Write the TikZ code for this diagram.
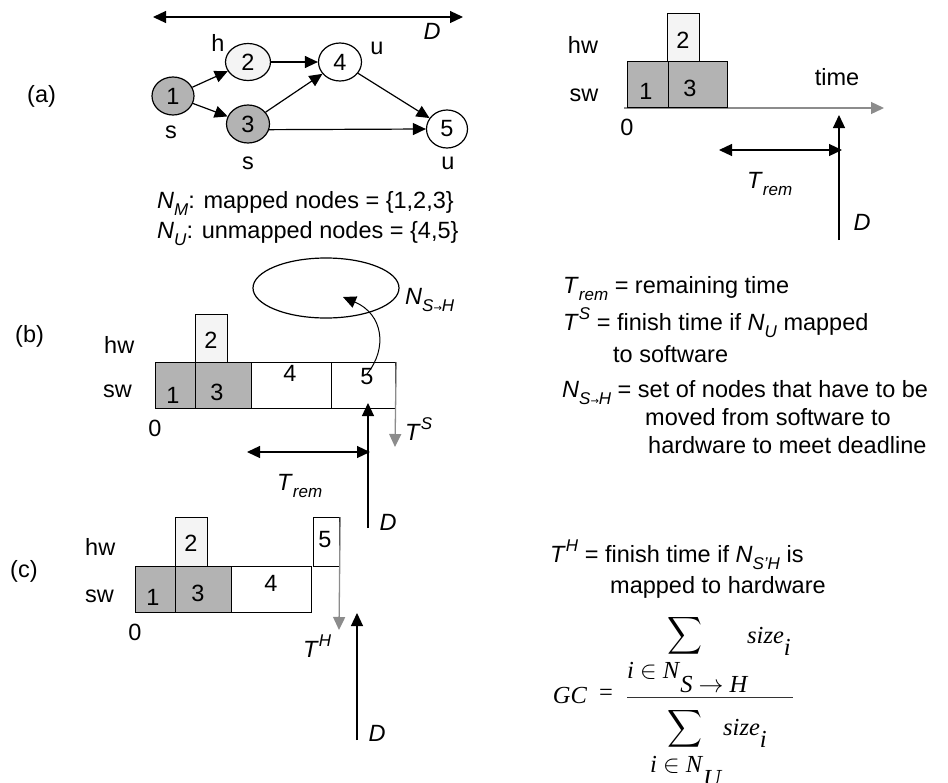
\documentclass[tikz,border=0pt]{standalone}
\usepackage{fontspec}
\usepackage{graphicx}
\setmainfont{Liberation Sans}
\newfontfamily\serif{Liberation Serif}
\newfontfamily\dejavu{DejaVu Sans}
\usetikzlibrary{arrows.meta,shapes.geometric}
\definecolor{fillgray}{HTML}{B3B3B3}
\definecolor{filllight}{HTML}{F4F4F4}
\definecolor{axisgray}{HTML}{8C8C8C}
\newcommand\lab{\fontsize{23.5}{28}\selectfont}
\newcommand\fml{\serif\fontsize{24.5}{28}\selectfont}
\newcommand\dn[1]{\raisebox{-0.3em}{\fontsize{17}{17}\selectfont\textit{#1}}}
\newcommand\up[1]{\raisebox{0.45em}{\fontsize{17}{17}\selectfont\textit{#1}}}
\newcommand\sarrow{{\dejavu\fontsize{10}{10}\selectfont\upshape →}}
\begin{document}
\begin{tikzpicture}[x=1pt,y=-1pt,
  every node/.style={font=\lab, inner sep=0pt},
  tip/.style={-{Triangle[length=13pt,width=12pt]}},
  dtip/.style={{Triangle[length=13pt,width=12pt]}-{Triangle[length=13pt,width=12pt]}},
  line/.style={line width=1.2pt},
  vert/.style={draw, line width=1.2pt, ellipse, inner sep=0pt},
  cell/.style={draw, line width=1.2pt, rectangle, inner sep=0pt, anchor=north west},
  garrow/.style={draw=axisgray, line width=1.3pt, -{Triangle[length=13pt,width=12pt]}, axisgray}]
\useasboundingbox (0,0) rectangle (948,782);

% ---------------- (a) graph ----------------
\node[anchor=base west] (la) at (27,102) {(a)};
\coordinate (dl) at (153,17);
\coordinate (dr) at (463,17);
\draw[line, dtip] (dl) -- (dr);
\node (dlab) at (432,31) {\textit{D}};

\node[vert, fill=fillgray, minimum width=42, minimum height=38] (n1) at (173,96) {1};
\node[vert, fill=filllight, minimum width=45, minimum height=37] (n2) at (248,62) {2};
\node[vert, fill=white, minimum width=43, minimum height=38] (n4) at (340,62) {4};
\node[vert, fill=fillgray, minimum width=43, minimum height=38] (n3) at (248,124) {3};
\node[vert, fill=white, minimum width=41, minimum height=38] (n5) at (447,129) {5};
\draw[line, tip] (n1) -- (n2);
\draw[line, tip] (n1) -- (n3);
\draw[line, tip] (n2) -- (n4);
\draw[line, tip] (n3) -- (n4);
\draw[line, tip] (n4) -- (n5);
\draw[line, tip] (n3.345) -- (n5.west);
\node (lh) at (218,43) {h};
\node (lu4) at (377,48) {u};
\node (ls1) at (171,132) {s};
\node (ls3) at (248,163) {s};
\node (lu5) at (448,163) {u};
\node[anchor=base west] (nm) at (157,208) {\textit{N}\dn{M}: mapped nodes = \{1,2,3\}};
\node[anchor=base west] (nu) at (157,238) {\textit{N}\dn{U}: unmapped nodes = \{4,5\}};

% ---------------- (a) schedule ----------------
\node (ahw) at (583,45) {hw};
\node (asw) at (584,95) {sw};
\coordinate (ax0) at (624,108);
\coordinate (ax1) at (884,108);
\draw[garrow] (ax0) -- (ax1);
\node[cell, fill=filllight, minimum width=32, minimum height=48] (a2) at (667,13) {};
\node[cell, fill=fillgray, minimum width=41, minimum height=46] (a1) at (627,61) {};
\node[cell, fill=fillgray, minimum width=59, minimum height=46] (a3) at (668,61) {};
\node (a2t) at (683,40) {2};
\node (a1t) at (646,91) {1};
\node (a3t) at (690,88) {3};
\node (atime) at (837,77) {time};
\node (a0) at (627,127) {0};
\coordinate (adb) at (839,240);
\coordinate (adt) at (839,115);
\draw[line, tip] (adb) -- (adt);
\node (adlab) at (862,222) {\textit{D}};
\coordinate (atl) at (719,150);
\coordinate (atr) at (842,150);
\draw[line, dtip] (atl) -- (atr);
\node[anchor=base west] (atrem) at (747,188) {\textit{T}\dn{rem}};

% ---------------- (b) ----------------
\node[anchor=base west] (lb) at (15,342) {(b)};
\draw[line] (326,288) ellipse [x radius=73, y radius=30];
\node[anchor=base west] (nsh) at (405,304) {\textit{N}\dn{S\sarrow H}};
\node[anchor=base west] (bhw) at (104,353) {hw};
\node[anchor=base west] (bsw) at (103,397) {sw};
\node[cell, fill=filllight, minimum width=32, minimum height=48] (b2) at (195,314) {};
\node[cell, fill=fillgray, minimum width=40, minimum height=46] (b1) at (155,362) {};
\node[cell, fill=fillgray, minimum width=56, minimum height=46] (b3) at (195,362) {};
\node[cell, fill=white, minimum width=80, minimum height=46] (b4) at (251,362) {};
\node[cell, fill=white, minimum width=64, minimum height=46] (b5) at (331,362) {};
\node (b2t) at (211,340) {2};
\node (b1t) at (173,395) {1};
\node (b3t) at (217,392) {3};
\node (b4t) at (290,373) {4};
\node (b5t) at (367,377) {5};
\node (b0) at (155,428) {0};
\coordinate (bts) at (395,447);
\draw[garrow] (b5.north east) -- (bts);
\node[anchor=base west] (btslab) at (405,440) {\textit{T}\up{S}};
\coordinate (bdb) at (368,528);
\coordinate (bdt) at (368,403);
\draw[line, tip] (bdb) -- (bdt);
\node (bdlab) at (388,522) {\textit{D}};
\coordinate (btl) at (247,452);
\coordinate (btr) at (370,452);
\draw[line, dtip] (btl) -- (btr);
\node[anchor=base west] (btrem) at (277,490) {\textit{T}\dn{rem}};
\coordinate (cs) at (367,374);
\coordinate (ct) at (343,297);
\draw[line width=1pt, tip] (cs) .. controls (388,348) and (383,314) .. (ct);

% ---------------- (c) ----------------
\node[anchor=base west] (lc) at (10,577) {(c)};
\node[anchor=base west] (chw) at (85,555) {hw};
\node[anchor=base west] (csw) at (85,602) {sw};
\node[cell, fill=filllight, minimum width=32, minimum height=49] (c2) at (175,517) {};
\node[cell, fill=fillgray, minimum width=40, minimum height=46] (c1) at (135,566) {};
\node[cell, fill=fillgray, minimum width=56, minimum height=46] (c3) at (175,566) {};
\node[cell, fill=white, minimum width=80, minimum height=46] (c4) at (231,566) {};
\node[cell, fill=white, minimum width=26, minimum height=49] (c5) at (313,517) {};
\node (c2t) at (191,543) {2};
\node (c1t) at (153,597) {1};
\node (c3t) at (198,593) {3};
\node (c4t) at (271,583) {4};
\node (c5t) at (325,540) {5};
\node (c0) at (135,632) {0};
\coordinate (cth) at (339,630);
\draw[garrow] (c5.north east) -- (cth);
\node[anchor=base west] (cthlab) at (303,657) {\textit{T}\up{H}};
\coordinate (cdb) at (357,740);
\coordinate (cdt) at (357,613);
\draw[line, tip] (cdb) -- (cdt);
\node (cdlab) at (377,733) {\textit{D}};

% ---------------- right texts ----------------
\node[anchor=base west] (t1) at (563,293) {\textit{T}\dn{rem} = remaining time};
\node[anchor=base west] (t2) at (563,330) {\textit{T}\up{S} = finish time if \textit{N}\dn{U} mapped};
\node[anchor=base west] (t3) at (613,362) {to software};
\node[anchor=base west] (t4) at (562,397) {\textit{N}\dn{S\sarrow H} = set of nodes that have to be};
\node[anchor=base west] (t5) at (645,425) {moved from software to};
\node[anchor=base west] (t6) at (648,453) {hardware to meet deadline};
\node[anchor=base west] (t7) at (550,562) {\textit{T}\up{H} = finish time if \textit{N}\dn{S'H} is};
\node[anchor=base west] (t8) at (610,593) {mapped to hardware};

% ---------------- formula ----------------
\node[font=\fml] (gc) at (570,695) {\textit{GC}};
\node[font=\fml] (eq) at (606,695) {=};
\node (s1) at (684.5,636) {\resizebox*{35pt}{42pt}{$\displaystyle\sum$}};
\node[font=\fml, anchor=base west] (z1) at (747,643) {\textit{size}\raisebox{-12pt}{\textit{i}}};
\node[font=\fml, anchor=base west] (r1) at (627,678) {\textit{i} $\in$ \textit{N}\raisebox{-14pt}{\textit{S} $\rightarrow$ \textit{H}}};
\coordinate (bl) at (627,697);
\coordinate (br) at (793,697);
\draw[line width=0.9pt, black!80] (bl) -- (br);
\node (s2) at (684.5,728.5) {\resizebox*{35pt}{42pt}{$\displaystyle\sum$}};
\node[font=\fml, anchor=base west] (z2) at (723,735) {\textit{size}\raisebox{-12pt}{\textit{i}}};
\node[font=\fml, anchor=base west] (r2) at (650,772) {\textit{i} $\in$ \textit{N}\raisebox{-14pt}{\textit{U}}};
\end{tikzpicture}
\end{document}
